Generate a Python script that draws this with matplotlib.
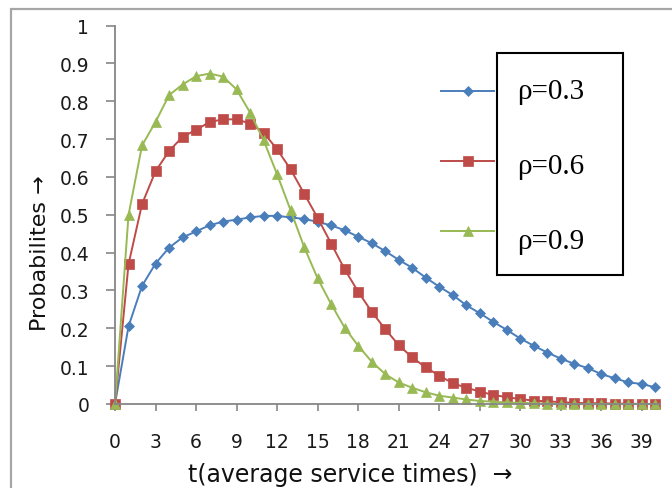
import matplotlib.pyplot as plt
from matplotlib.lines import Line2D
from matplotlib.patches import Rectangle
from matplotlib.ticker import FuncFormatter
import numpy as np

plt.rcParams['font.family'] = ['DejaVu Sans']

# t = 0..40 (average service times)
t = np.arange(0, 41)

# rho = 0.3
p03 = [0.0, 0.205, 0.312, 0.371, 0.413, 0.440, 0.456, 0.472, 0.482, 0.487,
       0.493, 0.497, 0.497, 0.493, 0.489, 0.481, 0.472, 0.459, 0.442, 0.425,
       0.404, 0.381, 0.360, 0.334, 0.310, 0.288, 0.261, 0.240, 0.217, 0.196,
       0.173, 0.154, 0.136, 0.120, 0.106, 0.095, 0.079, 0.068, 0.057, 0.053,
       0.044]
# rho = 0.6
p06 = [0.0, 0.369, 0.528, 0.615, 0.668, 0.706, 0.724, 0.745, 0.752, 0.752,
       0.741, 0.717, 0.673, 0.620, 0.556, 0.492, 0.424, 0.356, 0.297, 0.244,
       0.198, 0.156, 0.123, 0.097, 0.075, 0.055, 0.043, 0.033, 0.024, 0.018,
       0.013, 0.009, 0.007, 0.005, 0.003, 0.002, 0.002, 0.001, 0.001, 0.0,
       0.0]
# rho = 0.9
p09 = [0.0, 0.499, 0.683, 0.745, 0.816, 0.844, 0.866, 0.873, 0.865, 0.831,
       0.770, 0.697, 0.607, 0.512, 0.415, 0.332, 0.264, 0.202, 0.154, 0.112,
       0.079, 0.057, 0.043, 0.031, 0.022, 0.017, 0.012, 0.008, 0.006, 0.004,
       0.003, 0.002, 0.001, 0.0, 0.0, 0.0, 0.0, 0.0, 0.0, 0.0,
       0.0]

labels = ['ρ=0.3', 'ρ=0.6', 'ρ=0.9']
colors = ['#4A7EBB', '#BE4B48', '#98B954']
markers = ['D', 's', '^']
msizes = [5, 6.5, 7]

W, H = 672, 489
fig = plt.figure(figsize=(W / 100, H / 100), dpi=100)

# grey chart-area frame (runs off the right and bottom edges)
fig.add_artist(Rectangle((11 / W, -0.1), 1.2, 1.1 - 10 / H, transform=fig.transFigure,
                         fill=False, edgecolor='#A6A6A6', linewidth=1.6))

ax = fig.add_axes([115 / W, 1 - 405 / H, 545 / W, 378.5 / H])

for y, c, m, ms in zip([p03, p06, p09], colors, markers, msizes):
    ax.plot(t, y, color=c, marker=m, markersize=ms, linewidth=1.4,
            markeredgewidth=0.5, clip_on=False)

ax.set_xlim(0, 40.35)
ax.set_ylim(0, 1)
ax.set_xticks(np.arange(0, 40, 3))
ax.set_yticks(np.arange(0, 1.01, 0.1))
ax.yaxis.set_major_formatter(FuncFormatter(lambda v, p: '{:g}'.format(round(v, 1))))

for s in ['top', 'right']:
    ax.spines[s].set_visible(False)
for s in ['left', 'bottom']:
    ax.spines[s].set_color('#868686')
    ax.spines[s].set_linewidth(1.3)

ax.tick_params(axis='y', length=6.5, width=1.2, color='#868686', pad=12,
               labelsize=13.5, labelcolor='#1a1a1a')
ax.tick_params(axis='x', length=5, width=1.2, color='#868686', pad=15,
               labelsize=13.5, labelcolor='#1a1a1a')

fig.text(188 / W, 1 - 475 / H, 't(average service times)  →', fontsize=17,
         color='#111111', ha='left', va='center')
fig.text(40 / W, 1 - 253 / H, 'Probabilites →', fontsize=16, rotation=90,
         color='#111111', ha='center', va='center')

# legend keys outside the box, texts inside the box
key_y = [92, 162, 232]
for ky, c, m, ms in zip(key_y, colors, markers, msizes):
    fig.add_artist(Line2D([441 / W, 494 / W], [1 - ky / H, 1 - ky / H],
                          transform=fig.transFigure, color=c, linewidth=1.4))
    fig.add_artist(Line2D([468 / W], [1 - ky / H], transform=fig.transFigure,
                          color=c, marker=m, markersize=ms, markeredgewidth=0.5))

fig.add_artist(Rectangle((497 / W, 1 - 276 / H), 126 / W, 222 / H,
                         transform=fig.transFigure, fill=False,
                         edgecolor='black', linewidth=1.5))
for ty, lab in zip([92, 167, 242], labels):
    fig.text(517 / W, 1 - ty / H, lab, family='Liberation Serif', fontsize=21,
             ha='left', va='center', color='black')

fig.savefig('out.png', dpi=100)
